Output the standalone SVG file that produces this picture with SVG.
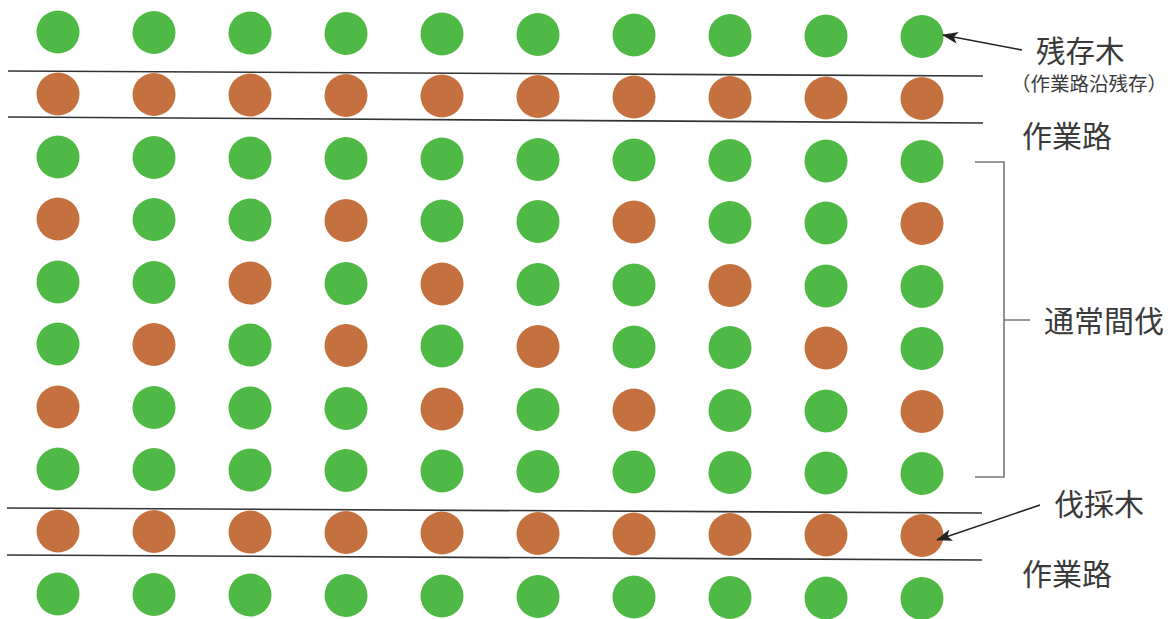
<svg xmlns="http://www.w3.org/2000/svg" width="1175" height="619" viewBox="0 0 1175 619">
<style>
.g{fill:#4fb945}
.b{fill:#c4713f}
.road{stroke:#333;stroke-width:1.6;fill:none}
.br{stroke:#777;stroke-width:1.6;fill:none}
.arr{stroke:#222;stroke-width:1.6;fill:none;marker-end:url(#ah)}
.lbl{font-family:"Noto Sans CJK JP","Noto Sans CJK SC",sans-serif;fill:#3a3a3a}
</style>
<defs>
<marker id="ah" viewBox="0 0 16 12" refX="15" refY="6" markerWidth="16" markerHeight="12" markerUnits="userSpaceOnUse" orient="auto">
<path d="M0,0 L16,6 L0,12 L4,6 Z" fill="#222"/>
</marker>
</defs>
<rect width="1175" height="619" fill="#fff"/>
<g id="trees">
<g id="row1" transform="translate(0,32)">
<circle class="g" cx="58" cy="0" r="21.5"/><circle class="g" cx="154" cy="0.5" r="21.5"/><circle class="g" cx="250" cy="1" r="21.5"/><circle class="g" cx="346" cy="1.5" r="21.5"/><circle class="g" cx="442" cy="2" r="21.5"/><circle class="g" cx="538" cy="2.5" r="21.5"/><circle class="g" cx="634" cy="3" r="21.5"/><circle class="g" cx="730" cy="3.5" r="21.5"/><circle class="g" cx="826" cy="4" r="21.5"/><circle class="g" cx="922" cy="4.5" r="21.5"/>
</g>
<g id="row2" transform="translate(0,94)">
<circle class="b" cx="58" cy="0" r="21.5"/><circle class="b" cx="154" cy="0.5" r="21.5"/><circle class="b" cx="250" cy="1" r="21.5"/><circle class="b" cx="346" cy="1.5" r="21.5"/><circle class="b" cx="442" cy="2" r="21.5"/><circle class="b" cx="538" cy="2.5" r="21.5"/><circle class="b" cx="634" cy="3" r="21.5"/><circle class="b" cx="730" cy="3.5" r="21.5"/><circle class="b" cx="826" cy="4" r="21.5"/><circle class="b" cx="922" cy="4.5" r="21.5"/>
</g>
<g id="row3" transform="translate(0,157)">
<circle class="g" cx="58" cy="0" r="21.5"/><circle class="g" cx="154" cy="0.5" r="21.5"/><circle class="g" cx="250" cy="1" r="21.5"/><circle class="g" cx="346" cy="1.5" r="21.5"/><circle class="g" cx="442" cy="2" r="21.5"/><circle class="g" cx="538" cy="2.5" r="21.5"/><circle class="g" cx="634" cy="3" r="21.5"/><circle class="g" cx="730" cy="3.5" r="21.5"/><circle class="g" cx="826" cy="4" r="21.5"/><circle class="g" cx="922" cy="4.5" r="21.5"/>
</g>
<g id="row4" transform="translate(0,219)">
<circle class="b" cx="58" cy="0" r="21.5"/><circle class="g" cx="154" cy="0.5" r="21.5"/><circle class="g" cx="250" cy="1" r="21.5"/><circle class="b" cx="346" cy="1.5" r="21.5"/><circle class="g" cx="442" cy="2" r="21.5"/><circle class="g" cx="538" cy="2.5" r="21.5"/><circle class="b" cx="634" cy="3" r="21.5"/><circle class="g" cx="730" cy="3.5" r="21.5"/><circle class="g" cx="826" cy="4" r="21.5"/><circle class="b" cx="922" cy="4.5" r="21.5"/>
</g>
<g id="row5" transform="translate(0,282)">
<circle class="g" cx="58" cy="0" r="21.5"/><circle class="g" cx="154" cy="0.5" r="21.5"/><circle class="b" cx="250" cy="1" r="21.5"/><circle class="g" cx="346" cy="1.5" r="21.5"/><circle class="b" cx="442" cy="2" r="21.5"/><circle class="g" cx="538" cy="2.5" r="21.5"/><circle class="g" cx="634" cy="3" r="21.5"/><circle class="b" cx="730" cy="3.5" r="21.5"/><circle class="g" cx="826" cy="4" r="21.5"/><circle class="g" cx="922" cy="4.5" r="21.5"/>
</g>
<g id="row6" transform="translate(0,344)">
<circle class="g" cx="58" cy="0" r="21.5"/><circle class="b" cx="154" cy="0.5" r="21.5"/><circle class="g" cx="250" cy="1" r="21.5"/><circle class="b" cx="346" cy="1.5" r="21.5"/><circle class="g" cx="442" cy="2" r="21.5"/><circle class="b" cx="538" cy="2.5" r="21.5"/><circle class="g" cx="634" cy="3" r="21.5"/><circle class="g" cx="730" cy="3.5" r="21.5"/><circle class="b" cx="826" cy="4" r="21.5"/><circle class="g" cx="922" cy="4.5" r="21.5"/>
</g>
<g id="row7" transform="translate(0,407)">
<circle class="b" cx="58" cy="0" r="21.5"/><circle class="g" cx="154" cy="0.5" r="21.5"/><circle class="g" cx="250" cy="1" r="21.5"/><circle class="g" cx="346" cy="1.5" r="21.5"/><circle class="b" cx="442" cy="2" r="21.5"/><circle class="g" cx="538" cy="2.5" r="21.5"/><circle class="b" cx="634" cy="3" r="21.5"/><circle class="g" cx="730" cy="3.5" r="21.5"/><circle class="g" cx="826" cy="4" r="21.5"/><circle class="b" cx="922" cy="4.5" r="21.5"/>
</g>
<g id="row8" transform="translate(0,469)">
<circle class="g" cx="58" cy="0" r="21.5"/><circle class="g" cx="154" cy="0.5" r="21.5"/><circle class="g" cx="250" cy="1" r="21.5"/><circle class="g" cx="346" cy="1.5" r="21.5"/><circle class="g" cx="442" cy="2" r="21.5"/><circle class="g" cx="538" cy="2.5" r="21.5"/><circle class="g" cx="634" cy="3" r="21.5"/><circle class="g" cx="730" cy="3.5" r="21.5"/><circle class="g" cx="826" cy="4" r="21.5"/><circle class="g" cx="922" cy="4.5" r="21.5"/>
</g>
<g id="row9" transform="translate(0,531)">
<circle class="b" cx="58" cy="0" r="21.5"/><circle class="b" cx="154" cy="0.5" r="21.5"/><circle class="b" cx="250" cy="1" r="21.5"/><circle class="b" cx="346" cy="1.5" r="21.5"/><circle class="b" cx="442" cy="2" r="21.5"/><circle class="b" cx="538" cy="2.5" r="21.5"/><circle class="b" cx="634" cy="3" r="21.5"/><circle class="b" cx="730" cy="3.5" r="21.5"/><circle class="b" cx="826" cy="4" r="21.5"/><circle class="b" cx="922" cy="4.5" r="21.5"/>
</g>
<g id="row10" transform="translate(0,594)">
<circle class="g" cx="58" cy="0" r="21.5"/><circle class="g" cx="154" cy="0.5" r="21.5"/><circle class="g" cx="250" cy="1" r="21.5"/><circle class="g" cx="346" cy="1.5" r="21.5"/><circle class="g" cx="442" cy="2" r="21.5"/><circle class="g" cx="538" cy="2.5" r="21.5"/><circle class="g" cx="634" cy="3" r="21.5"/><circle class="g" cx="730" cy="3.5" r="21.5"/><circle class="g" cx="826" cy="4" r="21.5"/><circle class="g" cx="922" cy="4.5" r="21.5"/>
</g>
</g>
<g id="roads">
<line class="road" x1="8" y1="71" x2="983" y2="76"/>
<line class="road" x1="8" y1="117" x2="983" y2="123"/>
<line class="road" x1="7" y1="508" x2="982" y2="513"/>
<line class="road" x1="7" y1="555" x2="982" y2="560"/>
</g>
<g id="connectors">
<line class="arr" x1="1022" y1="50" x2="943" y2="35"/>
<line class="arr" x1="1040" y1="505" x2="937" y2="540"/>
<path class="br" d="M975,162 H1004 V477 H975 M1004,320 H1030"/>
</g>
<g id="label-zanzon">
<text class="lbl" x="1036" y="62" font-size="29.5">残存木</text>
<text class="lbl" x="1011" y="91" font-size="19.5">（作業路沿残存）</text>
</g>
<g id="label-road1"><text class="lbl" x="1022" y="147" font-size="30">作業路</text></g>
<g id="label-tsujo"><text class="lbl" x="1044" y="332" font-size="30">通常間伐</text></g>
<g id="label-bassai"><text class="lbl" x="1054" y="515" font-size="30">伐採木</text></g>
<g id="label-road2"><text class="lbl" x="1022" y="585" font-size="30">作業路</text></g>
</svg>
